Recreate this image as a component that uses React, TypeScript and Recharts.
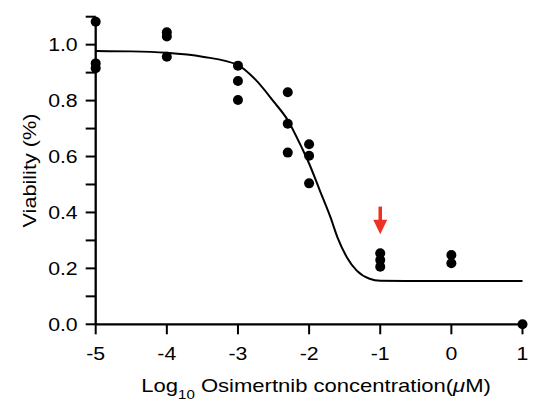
import { ComposedChart, Line, Scatter, XAxis, YAxis, ReferenceLine } from 'recharts';

// log10 dose (µM) and replicate viabilities
const doses = [-5, -4, -3, -2.3, -2, -1, 0, 1];
const viability = [
  [1.082, 0.933, 0.916],
  [1.044, 1.029, 0.957],
  [0.925, 0.870, 0.802],
  [0.830, 0.717, 0.614],
  [0.644, 0.603, 0.504],
  [0.254, 0.230, 0.206],
  [0.248, 0.218],
  [0],
];

// fitted curve
const fitX = [-5, -4.5, -4, -3.5, -3, -2.75, -2.5, -2.3, -2.1, -2, -1.85, -1.7, -1.6, -1.47, -1.33, -1.15, -1, -0.5, 0, 1];
const fitY = [0.977, 0.976, 0.971, 0.957, 0.927, 0.874, 0.797, 0.73, 0.63, 0.575, 0.479, 0.383, 0.31, 0.24, 0.192, 0.163, 0.156, 0.155, 0.155, 0.155];

const xTicks = [-5, -4, -3, -2, -1, 0, 1];
const yTicks = [0, 0.1, 0.2, 0.3, 0.4, 0.5, 0.6, 0.7, 0.8, 0.9, 1.0, 1.1];

// red arrow marking the -1 dose
const arrowX = -1;
const arrowTop = 0.421;
const arrowTip = 0.322;

const points = doses.flatMap((d, i) => viability[i].map((v) => ({ x: d, y: v })));
const fit = fitX.map((x, i) => ({ x, y: fitY[i] }));

const FONT = '"Liberation Sans", Arial, Helvetica, sans-serif';
const STRETCH = 1.12;

const XTick = ({ x, y, payload }: any) => (
  <text
    transform={`translate(${x},${y}) scale(${STRETCH},1)`}
    textAnchor="middle"
    dy="0.71em"
    fontSize={19}
    fontFamily={FONT}
    fill="#000"
  >
    {payload.value}
  </text>
);

const YTick = ({ x, y, payload }: any) => {
  const v = payload.value;
  const txt = Math.round(v * 10) % 2 === 0 ? v.toFixed(1) : '';
  return (
    <text
      transform={`translate(${x},${y}) scale(${STRETCH},1)`}
      textAnchor="end"
      dy="0.355em"
      fontSize={19}
      fontFamily={FONT}
      fill="#000"
    >
      {txt}
    </text>
  );
};

const XTitle = (props: any) => {
  const vb = props.viewBox || { x: 95.7, y: 324.3, width: 426.8, height: 70 };
  const cx = vb.x + vb.width / 2 + 7;
  const y = vb.y + 67.4;
  return (
    <text
      transform={`translate(${cx},${y}) scale(1.16,1)`}
      textAnchor="middle"
      fontSize={19}
      fontFamily={FONT}
      fill="#000"
    >
      <tspan>Log</tspan>
      <tspan fontSize={13} dy={7}>10</tspan>
      <tspan dy={-7}> Osimertnib concentration(</tspan>
      <tspan fontStyle="italic">μ</tspan>
      <tspan>M)</tspan>
    </text>
  );
};

const YTitle = (props: any) => {
  const vb = props.viewBox || { x: 15.7, y: 16.7, width: 80, height: 307.6 };
  const x = vb.x + 20.3;
  const cy = vb.y + vb.height / 2;
  return (
    <text
      transform={`translate(${x},${cy}) rotate(-90) scale(1.14,1)`}
      textAnchor="middle"
      fontSize={19}
      fontFamily={FONT}
      fill="#000"
    >
      Viability (%)
    </text>
  );
};

const Dot = ({ cx, cy }: any) => <circle cx={cx} cy={cy} r={5} fill="#000" />;

const ArrowHead = ({ cx, cy }: any) => (
  <polygon points={`${cx - 7},${cy - 14.5} ${cx + 7},${cy - 14.5} ${cx},${cy}`} fill="#ee3124" />
);

export default function App() {
  return (
    <div style={{ position: 'absolute', left: 0, top: 0, background: '#fff' }}>
      <ComposedChart
        width={545}
        height={420}
        margin={{ top: 16.7, right: 22.5, bottom: 25.7, left: 15.7 }}
      >
        <XAxis
          dataKey="x"
          type="number"
          domain={[-5, 1]}
          ticks={xTicks}
          interval={0}
          height={70}
          tickSize={10}
          tickMargin={12}
          axisLine={{ stroke: '#000', strokeWidth: 2.3 }}
          tickLine={{ stroke: '#000', strokeWidth: 2 }}
          tick={<XTick />}
          label={(p: any) => <XTitle {...p} />}
        />
        <YAxis
          type="number"
          domain={[0, 1.1]}
          ticks={yTicks}
          interval={0}
          width={80}
          tickSize={10}
          tickMargin={8}
          axisLine={{ stroke: '#000', strokeWidth: 2.3 }}
          tickLine={{ stroke: '#000', strokeWidth: 2 }}
          tick={<YTick />}
          label={(p: any) => <YTitle {...p} />}
        />
        <Line
          data={fit}
          dataKey="y"
          type="monotone"
          stroke="#000"
          strokeWidth={2}
          dot={false}
          activeDot={false}
          isAnimationActive={false}
        />
        <Scatter data={points} dataKey="y" shape={<Dot />} isAnimationActive={false} />
        <ReferenceLine
          segment={[{ x: arrowX, y: arrowTop }, { x: arrowX, y: arrowTip + 0.045 }]}
          stroke="#ee3124"
          strokeWidth={3.5}
          ifOverflow="visible"
        />
        <Scatter
          data={[{ x: arrowX, y: arrowTip }]}
          dataKey="y"
          shape={<ArrowHead />}
          isAnimationActive={false}
        />
      </ComposedChart>
    </div>
  );
}
